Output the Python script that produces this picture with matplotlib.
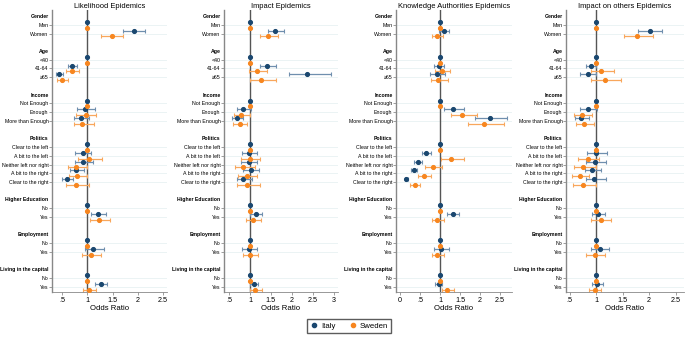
import numpy as np
import matplotlib
matplotlib.use("Agg")
import matplotlib.pyplot as plt
from matplotlib.lines import Line2D

plt.rcParams['font.family'] = ['Liberation Sans', 'DejaVu Sans']

# --- data ---
groups = ["Gender", "Age", "Income", "Politics", "Higher Education", "Employment", "Living in the capital"]
group_items = [
    ["Men", "Women"],
    ["<40", "41-64", "\u226565"],
    ["Not Enough", "Enough", "More than Enough"],
    ["Clear to the left", "A bit to the left", "Neither left nor right", "A bit to the right", "Clear to the right"],
    ["No", "Yes"],
    ["No", "Yes"],
    ["No", "Yes"],
]

titles = ["Likelihood Epidemics", "Impact Epidemics", "Knowledge Authorities Epidemics", "Impact on others Epidemics"]

# order: Men, Women, <40, 41-64, >=65, NE, E, MtE, CL, BL, N, BR, CR, HEno, HEyes, EMno, EMyes, CAPno, CAPyes
likelihood_it = [1, 1.92, 1, 0.70, 0.44, 1, 0.96, 0.88, 1, 0.91, 0.92, 0.78, 0.59, 1, 1.22, 1, 1.12, 1, 1.27]
likelihood_it_lo = [1, 1.71, 1, 0.62, 0.37, 1, 0.80, 0.74, 1, 0.76, 0.76, 0.65, 0.50, 1, 1.08, 1, 0.95, 1, 1.15]
likelihood_it_hi = [1, 2.15, 1, 0.79, 0.52, 1, 1.15, 1.04, 1, 1.08, 1.12, 0.93, 0.72, 1, 1.37, 1, 1.33, 1, 1.40]
likelihood_se = [1, 1.48, 1, 0.69, 0.50, 1, 0.97, 0.90, 1, 1.03, 0.78, 0.80, 0.77, 1, 1.24, 1, 1.07, 1, 1.04]
likelihood_se_lo = [1, 1.27, 1, 0.58, 0.40, 1, 0.78, 0.73, 1, 0.82, 0.61, 0.63, 0.58, 1, 1.05, 1, 0.90, 1, 0.92]
likelihood_se_hi = [1, 1.71, 1, 0.83, 0.61, 1, 1.18, 1.13, 1, 1.29, 1.00, 1.00, 1.03, 1, 1.44, 1, 1.27, 1, 1.17]

impact_it = [1, 1.60, 1, 1.41, 2.37, 1, 0.83, 0.69, 1, 0.98, 0.97, 1.02, 0.84, 1, 1.14, 1, 0.97, 1, 1.10]
impact_it_lo = [1, 1.42, 1, 1.25, 1.94, 1, 0.68, 0.57, 1, 0.80, 0.79, 0.84, 0.69, 1, 1.01, 1, 0.81, 1, 0.99]
impact_it_hi = [1, 1.81, 1, 1.61, 2.93, 1, 1.02, 0.83, 1, 1.17, 1.17, 1.21, 1.04, 1, 1.29, 1, 1.16, 1, 1.20]
impact_se = [1, 1.44, 1, 1.16, 1.27, 1, 0.79, 0.75, 1, 1.00, 0.84, 0.92, 0.92, 1, 1.06, 1, 1.00, 1, 1.13]
impact_se_lo = [1, 1.23, 1, 0.98, 0.99, 1, 0.63, 0.60, 1, 0.78, 0.65, 0.72, 0.69, 1, 0.90, 1, 0.83, 1, 1.01]
impact_se_hi = [1, 1.68, 1, 1.40, 1.61, 1, 1.01, 0.94, 1, 1.25, 1.11, 1.17, 1.23, 1, 1.26, 1, 1.19, 1, 1.28]

knowledge_it = [1, 1.10, 1, 0.97, 0.92, 1, 1.33, 2.25, 1, 0.66, 0.44, 0.34, 0.16, 1, 1.32, 1, 1.02, 1, 0.97]
knowledge_it_lo = [1, 0.98, 1, 0.85, 0.75, 1, 1.11, 1.88, 1, 0.56, 0.35, 0.28, 0.12, 1, 1.17, 1, 0.86, 1, 0.88]
knowledge_it_hi = [1, 1.22, 1, 1.10, 1.13, 1, 1.60, 2.68, 1, 0.78, 0.54, 0.42, 0.21, 1, 1.48, 1, 1.22, 1, 1.05]
knowledge_se = [1, 0.93, 1, 1.05, 0.96, 1, 1.56, 2.10, 1, 1.28, 0.83, 0.60, 0.37, 1, 0.93, 1, 0.93, 1, 1.18]
knowledge_se_lo = [1, 0.80, 1, 0.88, 0.77, 1, 1.28, 1.70, 1, 1.02, 0.63, 0.46, 0.25, 1, 0.79, 1, 0.80, 1, 1.04]
knowledge_se_hi = [1, 1.08, 1, 1.25, 1.21, 1, 1.93, 2.61, 1, 1.61, 1.06, 0.77, 0.49, 1, 1.09, 1, 1.11, 1, 1.34]

others_it = [1, 2.01, 1, 0.90, 0.85, 1, 0.85, 0.72, 1, 1.00, 0.98, 0.93, 0.96, 1, 1.04, 1, 1.07, 1, 1.01]
others_it_lo = [1, 1.80, 1, 0.80, 0.70, 1, 0.70, 0.60, 1, 0.83, 0.81, 0.79, 0.80, 1, 0.93, 1, 0.91, 1, 0.92]
others_it_hi = [1, 2.25, 1, 1.00, 1.00, 1, 1.02, 0.86, 1, 1.20, 1.19, 1.10, 1.18, 1, 1.17, 1, 1.25, 1, 1.13]
others_se = [1, 1.77, 1, 1.10, 1.16, 1, 0.73, 0.77, 1, 0.84, 0.75, 0.69, 0.75, 1, 1.09, 1, 0.97, 1, 0.98]
others_se_lo = [1, 1.52, 1, 0.91, 0.91, 1, 0.59, 0.62, 1, 0.66, 0.58, 0.54, 0.57, 1, 0.91, 1, 0.81, 1, 0.86]
others_se_hi = [1, 2.07, 1, 1.33, 1.47, 1, 0.92, 0.96, 1, 1.06, 0.99, 0.87, 0.99, 1, 1.28, 1, 1.16, 1, 1.10]

panels = [
    (likelihood_it, likelihood_it_lo, likelihood_it_hi, likelihood_se, likelihood_se_lo, likelihood_se_hi),
    (impact_it, impact_it_lo, impact_it_hi, impact_se, impact_se_lo, impact_se_hi),
    (knowledge_it, knowledge_it_lo, knowledge_it_hi, knowledge_se, knowledge_se_lo, knowledge_se_hi),
    (others_it, others_it_lo, others_it_hi, others_se, others_se_lo, others_se_hi),
]

xticks = [
    ([0.5, 1, 1.5, 2, 2.5], [".5", "1", "1.5", "2", "2.5"]),
    ([0.5, 1, 1.5, 2, 2.5, 3], [".5", "1", "1.5", "2", "2.5", "3"]),
    ([0, 0.5, 1, 1.5, 2, 2.5], ["0", ".5", "1", "1.5", "2", "2.5"]),
    ([0.5, 1, 1.5, 2, 2.5], [".5", "1", "1.5", "2", "2.5"]),
]
xlims = [(0.30, 2.58), (0.38, 3.10), (-0.10, 2.80), (0.43, 2.66)]
ax_pos = [(52, 167), (224, 338), (396, 512), (566, 684)]

# --- row layout ---
tick_pos, tick_lab, is_head, item_pos = [], [], [], []
row = 0
for g, items in zip(groups, group_items):
    tick_pos.append(row); tick_lab.append(g); is_head.append(True)
    row += 1
    for it in items:
        tick_pos.append(row); tick_lab.append(it); is_head.append(False)
        item_pos.append(row)
        row += 1
    row += 1
item_pos = np.array(item_pos, dtype=float)

c_it = "#1a476f"
c_it_bar = "#6f8fae"
c_se = "#f7861f"
c_se_bar = "#f8a75c"

W, H = 685, 342
fig = plt.figure(figsize=(W / 100, H / 100), dpi=100)
top, bot = 10, 292

for k, (vals, title) in enumerate(zip(panels, titles)):
    l, r = ax_pos[k]
    ax = fig.add_axes([l / W, 1 - bot / H, (r - l) / W, (bot - top) / H])
    it, it_lo, it_hi, se, se_lo, se_hi = [np.array(v) for v in vals]
    for p in item_pos:
        ax.axhline(p, color="#e3eef0", lw=0.5, zorder=0)
    ax.axvline(1, color="#555555", lw=1.0, zorder=1)
    off = 0.33
    ax.errorbar(it, item_pos - off, xerr=[it - it_lo, it_hi - it], fmt="none",
                ecolor=c_it_bar, elinewidth=0.9, capsize=1.6, capthick=0.8, zorder=2)
    ax.errorbar(se, item_pos + off, xerr=[se - se_lo, se_hi - se], fmt="none",
                ecolor=c_se_bar, elinewidth=0.9, capsize=1.6, capthick=0.8, zorder=2)
    ax.plot(it, item_pos - off, "o", color=c_it, ms=2.7, zorder=3)
    ax.plot(se, item_pos + off, "o", color=c_se, ms=2.7, zorder=3)

    ax.set_ylim(31.6, -0.7)
    ax.set_xlim(*xlims[k])
    ax.set_yticks(tick_pos)
    ax.set_yticklabels(tick_lab, fontsize=3.8)
    for lab, h, tk in zip(ax.get_yticklabels(), is_head, ax.yaxis.get_major_ticks()):
        if h:
            lab.set_fontweight("bold")
            lab.set_fontsize(3.7)
            tk.tick1line.set_visible(False)
    ax.tick_params(axis="y", length=2.2, width=0.5, color="#777777", pad=0.4)
    ax.set_xticks(xticks[k][0])
    ax.set_xticklabels(xticks[k][1], fontsize=5.2)
    ax.tick_params(axis="x", length=2.5, width=0.5, color="#777777", pad=1.0)
    ax.set_xlabel("Odds Ratio", fontsize=5.6, labelpad=0.8)
    ax.set_title(title, fontsize=5.4, pad=1.5)
    for s in ["top", "right"]:
        ax.spines[s].set_visible(False)
    ax.spines["left"].set_color("#888888")
    ax.spines["left"].set_linewidth(1.0)
    ax.spines["bottom"].set_color("#888888")
    ax.spines["bottom"].set_linewidth(0.6)

handles = [Line2D([], [], marker="o", ls="none", color=c_it, ms=3, label="Italy"),
           Line2D([], [], marker="o", ls="none", color=c_se, ms=3, label="Sweden")]
fig.legend(handles=handles, loc="center", bbox_to_anchor=(0.510, 0.046), ncol=2,
           fontsize=5.6, frameon=True, fancybox=False, edgecolor="#333333",
           handletextpad=0.4, columnspacing=1.8, borderpad=0.45, handlelength=0.9)

fig.savefig("out.png", dpi=100)
